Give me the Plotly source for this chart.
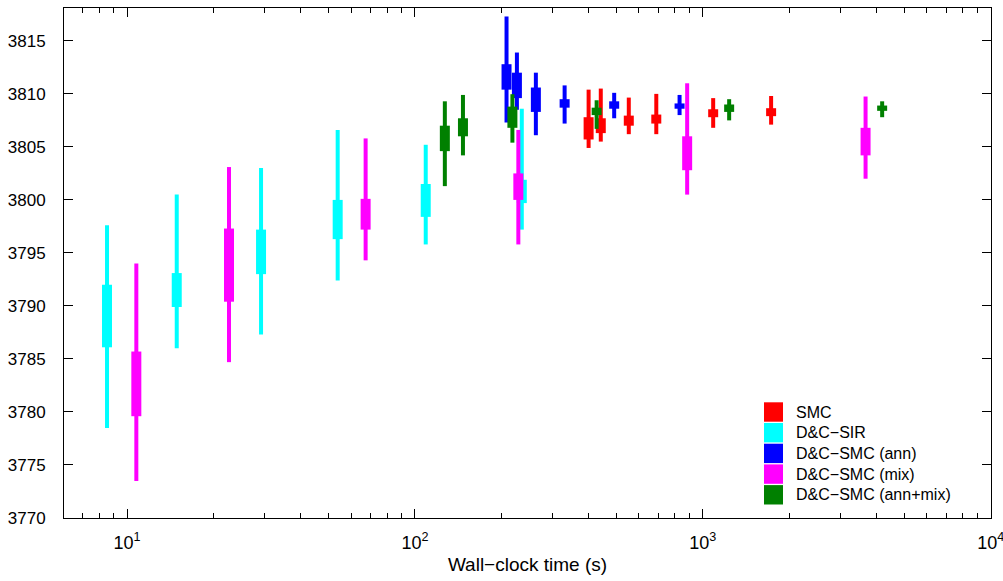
import plotly.graph_objects as go

# ---- data ----
series_names = ["SMC", "D&C\u2212SIR", "D&C\u2212SMC (ann)", "D&C\u2212SMC (mix)", "D&C\u2212SMC (ann+mix)"]
series_colors = ["#ff0000", "#00ffff", "#0000ff", "#ff00ff", "#008000"]

smc_t = [401, 442, 553, 689, 1086, 1726]
smc_whi = [3810.4, 3810.5, 3809.65, 3810.0, 3809.6, 3809.8]
smc_bhi = [3807.8, 3807.7, 3807.95, 3808.05, 3808.55, 3808.65]
smc_blo = [3805.7, 3806.3, 3807.0, 3807.2, 3807.8, 3807.9]
smc_wlo = [3804.9, 3805.5, 3806.2, 3806.2, 3806.8, 3807.1]

sir_t = [8.52, 14.88, 29.2, 53.9, 109, 235]
sir_whi = [3797.6, 3800.5, 3803.0, 3806.6, 3805.2, 3808.6]
sir_bhi = [3792.0, 3793.1, 3797.2, 3800.0, 3801.5, 3801.9]
sir_blo = [3786.1, 3789.9, 3793.0, 3796.3, 3798.4, 3799.7]
sir_wlo = [3778.5, 3786.0, 3787.3, 3792.4, 3795.8, 3797.2]

ann_t = [208, 226, 263, 331, 492, 830]
ann_whi = [3817.3, 3813.9, 3812.0, 3810.8, 3810.1, 3809.9]
ann_bhi = [3812.8, 3812.0, 3810.6, 3809.5, 3809.3, 3809.1]
ann_blo = [3810.4, 3809.6, 3808.3, 3808.7, 3808.6, 3808.6]
ann_wlo = [3807.3, 3808.5, 3806.1, 3807.2, 3807.7, 3808.0]

mix_t = [10.77, 22.6, 67.4, 228.6, 882, 3674]
mix_whi = [3794.0, 3803.1, 3805.8, 3806.6, 3811.0, 3809.75]
mix_bhi = [3785.7, 3797.3, 3800.1, 3802.5, 3806.0, 3806.8]
mix_blo = [3779.6, 3790.4, 3797.2, 3800.0, 3802.8, 3804.2]
mix_wlo = [3773.5, 3784.7, 3794.3, 3795.8, 3800.5, 3802.0]

annmix_t = [127, 146.8, 218, 427.6, 1234, 4195]
annmix_whi = [3809.3, 3809.9, 3809.97, 3809.4, 3809.5, 3809.3]
annmix_bhi = [3807.0, 3807.7, 3808.8, 3808.7, 3809.0, 3808.9]
annmix_blo = [3804.6, 3806.0, 3806.8, 3808.0, 3808.3, 3808.4]
annmix_wlo = [3801.3, 3804.2, 3805.4, 3806.7, 3807.5, 3807.8]

x_tickvals = [10, 100, 1000, 10000]
x_ticktext = ["10<sup>1</sup>", "10<sup>2</sup>", "10<sup>3</sup>", "10<sup>4</sup>"]
y_tickvals = [3770, 3775, 3780, 3785, 3790, 3795, 3800, 3805, 3810, 3815]

all_series = [
    (smc_t, smc_wlo, smc_blo, smc_bhi, smc_whi),
    (sir_t, sir_wlo, sir_blo, sir_bhi, sir_whi),
    (ann_t, ann_wlo, ann_blo, ann_bhi, ann_whi),
    (mix_t, mix_wlo, mix_blo, mix_bhi, mix_whi),
    (annmix_t, annmix_wlo, annmix_blo, annmix_bhi, annmix_whi),
]

FONT = "Arial, 'Liberation Sans', Helvetica, sans-serif"

W, H = 1003, 581
ML, MR, MT, MB = 64, 12, 8, 63
PW, PH = W - ML - MR, H - MT - MB


def px_to_paper(px, py):
    return (px - ML) / PW, (H - MB - py) / PH


def segments(xs, lo, hi):
    X, Y = [], []
    for x, a, b in zip(xs, lo, hi):
        X += [x, x, None]
        Y += [a, b, None]
    return X, Y


fig = go.Figure()
for name, color, (t, wlo, blo, bhi, whi) in zip(series_names, series_colors, all_series):
    X, Y = segments(t, wlo, whi)
    fig.add_trace(go.Scatter(x=X, y=Y, mode="lines", line=dict(color=color, width=4),
                             name=name, legendgroup=name, showlegend=False, hoverinfo="skip"))
    X, Y = segments(t, blo, bhi)
    fig.add_trace(go.Scatter(x=X, y=Y, mode="lines", line=dict(color=color, width=10),
                             name=name, legendgroup=name, showlegend=False, hoverinfo="skip"))

# legend box (drawn as swatches + text, lower right)
LEG_SW_X0, LEG_SW_X1 = 764, 783
LEG_TXT_X = 794
LEG_ROW0, LEG_ROW_STEP, LEG_SW_HALF = 412.0, 20.7, 9.7
for i, (name, color) in enumerate(zip(series_names, series_colors)):
    cy = LEG_ROW0 + i * LEG_ROW_STEP
    x0, y0 = px_to_paper(LEG_SW_X0, cy + LEG_SW_HALF)
    x1, y1 = px_to_paper(LEG_SW_X1, cy - LEG_SW_HALF)
    fig.add_shape(type="rect", xref="paper", yref="paper", x0=x0, x1=x1, y0=y0, y1=y1,
                  fillcolor=color, line=dict(width=0), layer="above")
    tx, ty = px_to_paper(LEG_TXT_X, cy)
    fig.add_annotation(xref="paper", yref="paper", x=tx, y=ty, text=name, showarrow=False,
                       xanchor="left", yanchor="middle", font=dict(size=16, family=FONT, color="black"))

fig.update_layout(
    width=W, height=H,
    margin=dict(l=ML, r=MR, t=MT, b=MB, autoexpand=False),
    paper_bgcolor="white", plot_bgcolor="white",
    font=dict(family=FONT, size=17, color="black"),
    showlegend=False,
)
fig.update_xaxes(
    type="log", range=[0.781, 4.0008], tickvals=x_tickvals, ticktext=x_ticktext,
    automargin=False,
    showline=True, linecolor="black", linewidth=1, mirror="allticks",
    ticks="inside", ticklen=9, tickcolor="black", showgrid=False, zeroline=False,
    tickfont=dict(size=18), ticklabelstandoff=8, ticklabeloverflow="allow",
    minor=dict(ticks="inside", ticklen=5, tickcolor="black", showgrid=False, dtick="D1"),
    title=dict(text="Wall\u2212clock time (s)", font=dict(size=19), standoff=6),
)
fig.update_yaxes(
    range=[3770, 3818.1], tickvals=y_tickvals, automargin=False,
    showline=True, linecolor="black", linewidth=1, mirror="allticks",
    ticks="inside", ticklen=9, tickcolor="black", showgrid=False, zeroline=False,
    tickfont=dict(size=17), ticklabelstandoff=14,
)

fig.write_html("out.html")
